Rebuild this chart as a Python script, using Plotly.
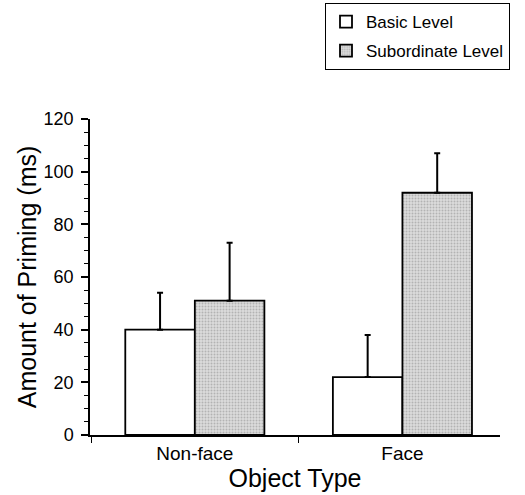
import plotly.graph_objects as go

categories = ["Non-face", "Face"]
basic_vals = [40, 22]
basic_err = [14, 16]
sub_vals = [51, 92]
sub_err = [22, 15]
y_ticks = [0, 20, 40, 60, 80, 100, 120]

font_family = "Arial, Liberation Sans, Helvetica, sans-serif"

fig = go.Figure()
fig.add_trace(go.Bar(
    x=categories, y=basic_vals, name="Basic Level",
    marker=dict(color="white", line=dict(color="black", width=1.8)),
    error_y=dict(type="data", array=basic_err, arrayminus=[0, 0], symmetric=False,
                 color="black", thickness=2, width=3),
    legendgroup="a",
))
fig.add_trace(go.Bar(
    x=categories, y=sub_vals, name="Subordinate Level",
    marker=dict(color="#cccccc", line=dict(color="black", width=1.8),
                pattern=dict(shape=".", fgcolor="#8a8a8a", bgcolor="#dcdcdc",
                             size=3, solidity=0.35)),
    error_y=dict(type="data", array=sub_err, arrayminus=[0, 0], symmetric=False,
                 color="black", thickness=2, width=3),
    legendgroup="b",
))

fig.update_layout(
    width=525, height=495,
    margin=dict(l=90, r=25, t=119, b=60, autoexpand=False),
    paper_bgcolor="white", plot_bgcolor="white",
    font=dict(family=font_family, color="black"),
    barmode="group", bargap=0.33, bargroupgap=0,
    showlegend=True,
    legend=dict(x=325 / 525, y=1 - 3 / 495, xref="container", yref="container",
                xanchor="left", yanchor="top",
                bordercolor="black", borderwidth=1, bgcolor="white",
                font=dict(size=17, family=font_family),
                tracegroupgap=4, entrywidth=240),
    xaxis=dict(
        type="category",
        range=[-0.505, 1.47],
        showline=True, linecolor="black", linewidth=1.5,
        ticks="outside", tickson="boundaries", ticklen=6,
        tickcolor="black", tickwidth=1,
        tickfont=dict(size=19),
        title=dict(text="Object Type", font=dict(size=25), standoff=6),
        showgrid=False, zeroline=False,
    ),
    yaxis=dict(
        range=[0, 120],
        showline=True, linecolor="black", linewidth=1.5,
        tickvals=y_ticks, ticks="outside", ticklen=7, tickcolor="black", tickwidth=1.5,
        tickfont=dict(size=18), ticklabelstandoff=4,
        minor=dict(dtick=5, ticks="outside", ticklen=4, tickcolor="black", tickwidth=1),
        title=dict(text="Amount of Priming (ms)", font=dict(size=25), standoff=0),
        showgrid=False, zeroline=False,
    ),
)

fig.write_html("out.html", config={"displayModeBar": False},
               post_script="document.body.style.margin='0';")
